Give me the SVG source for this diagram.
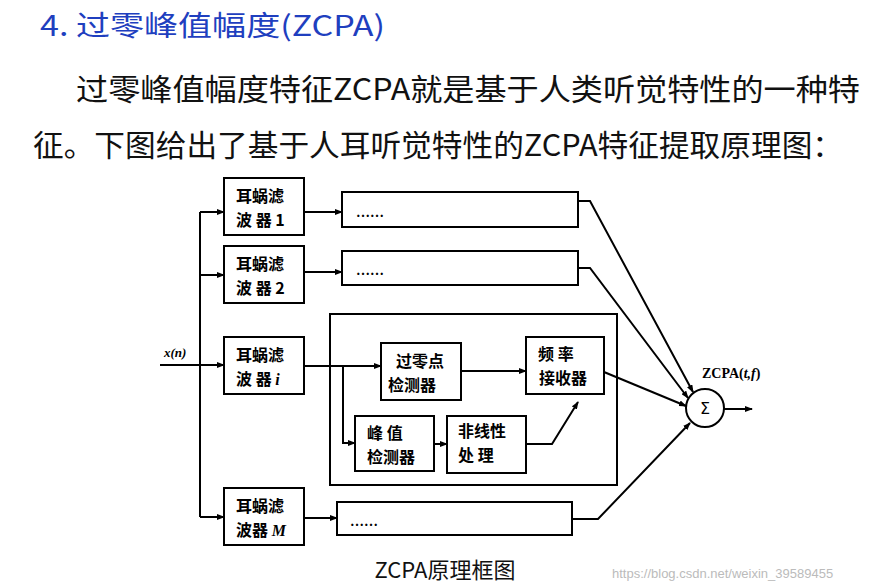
<svg xmlns="http://www.w3.org/2000/svg" width="895" height="588" viewBox="0 0 895 588">
<defs>
<marker id="ar" markerWidth="8" markerHeight="6" refX="7" refY="3" orient="auto" markerUnits="userSpaceOnUse"><path d="M0,0 L8,3 L0,6 Z" fill="#000"/></marker>
<style>
.b{fill:#fff;stroke:#000;stroke-width:2}
.t{font-family:"Noto Sans CJK SC","Liberation Serif",serif;font-size:16px;font-weight:bold;fill:#000}
.s{font-family:"Liberation Serif",serif;font-size:14px;font-weight:bold;fill:#000}
.c{fill:none;stroke:#000;stroke-width:2}
</style>
</defs>
<rect width="895" height="588" fill="#fff"/>
<text x="40" y="36" font-family="Noto Sans CJK SC,Liberation Sans,sans-serif" font-size="28" fill="#1f3fbf" textLength="345" lengthAdjust="spacingAndGlyphs">4.  过零峰值幅度(ZCPA)</text>
<text x="76" y="100" font-family="Noto Sans CJK SC,Liberation Sans,sans-serif" font-size="30" fill="#111" textLength="784" lengthAdjust="spacingAndGlyphs">过零峰值幅度特征ZCPA就是基于人类听觉特性的一种特</text>
<text x="33" y="156" font-family="Noto Sans CJK SC,Liberation Sans,sans-serif" font-size="30" fill="#111" textLength="810" lengthAdjust="spacingAndGlyphs">征。下图给出了基于人耳听觉特性的ZCPA特征提取原理图：</text>
<g id="outer"><rect class="b" x="330" y="314" width="287" height="171" fill="none"/></g>
<g id="f1"><rect class="b" x="224" y="178" width="80" height="57"/><text class="t" x="236" y="202">耳蜗滤</text><text class="t" x="236" y="226">波 器 1</text></g>
<g id="f2"><rect class="b" x="224" y="246" width="80" height="57"/><text class="t" x="236" y="270">耳蜗滤</text><text class="t" x="236" y="294">波 器 2</text></g>
<g id="fi"><rect class="b" x="224" y="337" width="80" height="57"/><text class="t" x="236" y="361">耳蜗滤</text><text class="t" x="236" y="385">波 器 <tspan font-style="italic" font-family="Liberation Serif,serif">i</tspan></text></g>
<g id="fm"><rect class="b" x="224" y="488" width="80" height="57"/><text class="t" x="236" y="512">耳蜗滤</text><text class="t" x="236" y="536">波器 <tspan font-style="italic" font-family="Liberation Serif,serif">M</tspan></text></g>
<g id="l1"><rect class="b" x="342" y="192" width="236" height="35"/><text class="s" x="356" y="217">……</text></g>
<g id="l2"><rect class="b" x="342" y="251" width="236" height="34"/><text class="s" x="356" y="275">……</text></g>
<g id="lm"><rect class="b" x="337" y="502" width="235" height="33"/><text class="s" x="350" y="526">……</text></g>
<g id="zc"><rect class="b" x="381" y="343" width="80" height="57"/><text class="t" x="396" y="367">过零点</text><text class="t" x="388" y="391">检测器</text></g>
<g id="fr"><rect class="b" x="526" y="337" width="78" height="57"/><text class="t" x="538" y="360">频  率</text><text class="t" x="539" y="384">接收器</text></g>
<g id="pk"><rect class="b" x="355" y="416" width="79" height="55"/><text class="t" x="367" y="439">峰  值</text><text class="t" x="367" y="463">检测器</text></g>
<g id="nl"><rect class="b" x="447" y="416" width="79" height="57"/><text class="t" x="458" y="437">非线性</text><text class="t" x="458" y="461">处  理</text></g>
<g id="sum"><circle cx="705" cy="408" r="19" class="b"/><text x="705" y="414" text-anchor="middle" font-family="DejaVu Sans,sans-serif" font-size="16">Σ</text></g>
<g id="labels">
<text x="164" y="357" font-family="Liberation Serif,serif" font-size="13" font-weight="bold" font-style="italic">x(n)</text>
<text x="702" y="378" font-family="Liberation Serif,serif" font-size="14" font-weight="bold">ZCPA(<tspan font-style="italic">t,f</tspan>)</text>
<text x="445" y="578" text-anchor="middle" font-family="Noto Sans CJK SC,Liberation Sans,sans-serif" font-size="22" fill="#111">ZCPA原理框图</text>
<text x="612" y="578" font-family="Liberation Sans,sans-serif" font-size="13" fill="#bbb">https://blog.csdn.net/weixin_39589455</text>
</g>
<g id="connectors">
<path class="c" d="M160,365 H224" marker-end="url(#ar)"/>
<path class="c" d="M200,212 V517"/>
<path class="c" d="M200,212 H224" marker-end="url(#ar)"/>
<path class="c" d="M200,275 H224" marker-end="url(#ar)"/>
<path class="c" d="M200,517 H224" marker-end="url(#ar)"/>
<path class="c" d="M304,212 H342" marker-end="url(#ar)"/>
<path class="c" d="M304,272 H342" marker-end="url(#ar)"/>
<path class="c" d="M304,518 H337" marker-end="url(#ar)"/>
<path class="c" d="M304,366 H381" marker-end="url(#ar)"/>
<path class="c" d="M343,366 V443 H355" marker-end="url(#ar)"/>
<path class="c" d="M461,371 H526" marker-end="url(#ar)"/>
<path class="c" d="M434,444 H447" marker-end="url(#ar)"/>
<path class="c" d="M526,444 H552 L578,402" marker-end="url(#ar)"/>
<path class="c" d="M578,201 H590 L693,392" marker-end="url(#ar)"/>
<path class="c" d="M578,268 H590 L688,398" marker-end="url(#ar)"/>
<path class="c" d="M604,372 L686,406" marker-end="url(#ar)"/>
<path class="c" d="M572,519 H598 L690,423" marker-end="url(#ar)"/>
<path class="c" d="M724,409 H752" marker-end="url(#ar)"/>
</g>
</svg>
